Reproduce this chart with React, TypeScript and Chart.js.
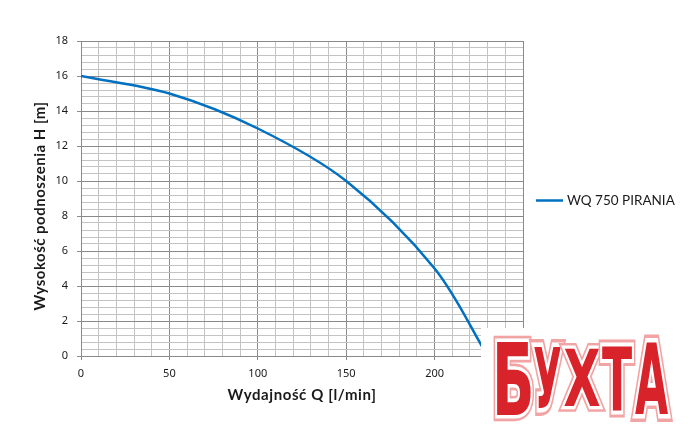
import { useEffect, useRef } from 'react';
import { Chart, registerables } from 'chart.js';

Chart.register(...registerables);

const flowQ = [0, 50, 100, 150, 200, 230];
const headH = [16, 15, 13, 10, 5, 0];

const seriesName = 'WQ 750 PIRANIA';
const xTitle = 'Wydajność Q [l/min]';
const yTitle = 'Wysokość podnoszenia H [m]';
const watermarkLetters = ['Б', 'У', 'Х', 'Т', 'А'];

const W = 699;
const H = 430;
const MINOR = '#c3c3c3';
const MAJOR = '#8a8a8a';
const LINE = '#0070c0';

const isMult = (v: number, m: number) => Math.abs(v / m - Math.round(v / m)) < 1e-6;

const overlayPlugin = {
  id: 'overlay',
  afterDraw(chart: any) {
    const ctx = chart.ctx as CanvasRenderingContext2D;
    ctx.save();
    // legend
    ctx.strokeStyle = LINE;
    ctx.lineWidth = 2.5;
    ctx.beginPath();
    ctx.moveTo(536, 200.5);
    ctx.lineTo(563, 200.5);
    ctx.stroke();
    ctx.fillStyle = '#1a1a1a';
    ctx.font = '13.5px Lato';
    ctx.textAlign = 'left';
    ctx.textBaseline = 'middle';
    ctx.fillText(seriesName, 567, 201);

    // axis titles
    ctx.font = 'bold 15px Lato';
    ctx.textAlign = 'center';
    ctx.textBaseline = 'middle';
    (ctx as any).letterSpacing = '0.6px';
    ctx.fillText(xTitle, 302, 395);
    ctx.save();
    ctx.translate(40, 206);
    ctx.rotate(-Math.PI / 2);
    (ctx as any).letterSpacing = '0.5px';
    ctx.fillText(yTitle, 0, 0);
    ctx.restore();
    (ctx as any).letterSpacing = '0px';

    // watermark
    ctx.fillStyle = '#ffffff';
    ctx.fillRect(481, 328, W - 481, H - 328);
    const boxes = [
      [497, 531, 342, 415],
      [534, 561, 347, 408],
      [564, 600, 349, 406],
      [602, 632, 345, 410],
      [635, 668, 342, 415],
    ];
    ctx.font = 'bold 100px "DejaVu Sans"';
    ctx.textAlign = 'left';
    ctx.textBaseline = 'alphabetic';
    watermarkLetters.forEach((ch, i) => {
      const [x0, x1, y0, y1] = boxes[i];
      const m = ctx.measureText(ch);
      const gw = m.actualBoundingBoxLeft + m.actualBoundingBoxRight;
      const gh = m.actualBoundingBoxAscent + m.actualBoundingBoxDescent;
      const sx = (x1 - x0) / gw;
      const sy = (y1 - y0) / gh;
      ctx.save();
      ctx.translate(x0, y0);
      ctx.scale(sx, sy);
      const tx = m.actualBoundingBoxLeft;
      const ty = m.actualBoundingBoxAscent;
      ctx.lineJoin = 'miter';
      ctx.strokeStyle = '#f2a3a3';
      ctx.lineWidth = 7 / Math.min(sx, sy);
      ctx.strokeText(ch, tx, ty);
      ctx.strokeStyle = '#ffffff';
      ctx.lineWidth = 4 / Math.min(sx, sy);
      ctx.strokeText(ch, tx, ty);
      ctx.fillStyle = '#d8232a';
      ctx.fillText(ch, tx, ty);
      ctx.restore();
    });
    ctx.restore();
  },
};

export default function App() {
  const ref = useRef<HTMLCanvasElement | null>(null);
  useEffect(() => {
    if (!ref.current) return;
    const chart = new Chart(ref.current, {
      type: 'line',
      data: {
        datasets: [
          {
            label: seriesName,
            data: flowQ.map((q, i) => ({ x: q, y: headH[i] })),
            borderColor: LINE,
            borderWidth: 2.5,
            pointRadius: 0,
            fill: false,
            tension: 0.33,
          },
        ],
      },
      options: {
        responsive: false,
        animation: false,
        devicePixelRatio: 1,
        layout: { padding: { left: 0, top: 41, right: W - 523, bottom: 0 } },
        plugins: { legend: { display: false }, tooltip: { enabled: false } },
        scales: {
          x: {
            type: 'linear',
            min: 0,
            max: 250,
            afterFit: (s: any) => { s.height = H - 356; },
            ticks: {
              stepSize: 10,
              autoSkip: false,
              maxRotation: 0,
              padding: 7,
              color: '#1a1a1a',
              font: { family: '"Noto Sans", sans-serif', size: 11 },
              callback: (v: any) => (isMult(Number(v), 50) ? String(v) : ''),
            },
            grid: {
              color: (c: any) => (isMult(c.tick?.value ?? 0, 50) ? MAJOR : MINOR),
              tickColor: (c: any) => (isMult(c.tick?.value ?? 0, 50) ? MAJOR : 'rgba(0,0,0,0)'),
              tickLength: 4,
              lineWidth: 1,
            },
            border: { color: MAJOR },
          },
          y: {
            type: 'linear',
            min: 0,
            max: 18,
            afterFit: (s: any) => { s.width = 81; },
            ticks: {
              stepSize: 0.4,
              autoSkip: false,
              padding: 9,
              color: '#1a1a1a',
              font: { family: '"Noto Sans", sans-serif', size: 11 },
              callback: (v: any) => (isMult(Number(v), 2) ? String(Math.round(Number(v))) : ''),
            },
            grid: {
              color: (c: any) => (isMult(c.tick?.value ?? 0, 2) ? MAJOR : MINOR),
              tickColor: (c: any) => (isMult(c.tick?.value ?? 0, 2) ? MAJOR : 'rgba(0,0,0,0)'),
              tickLength: 4,
              lineWidth: 1,
            },
            border: { color: MAJOR },
          },
        },
      },
      plugins: [overlayPlugin],
    });
    return () => chart.destroy();
  }, []);
  return (
    <div style={{ position: 'absolute', left: 0, top: 0, width: W, height: H, background: '#fff' }}>
      <canvas ref={ref} width={W} height={H} style={{ display: 'block' }} />
    </div>
  );
}
